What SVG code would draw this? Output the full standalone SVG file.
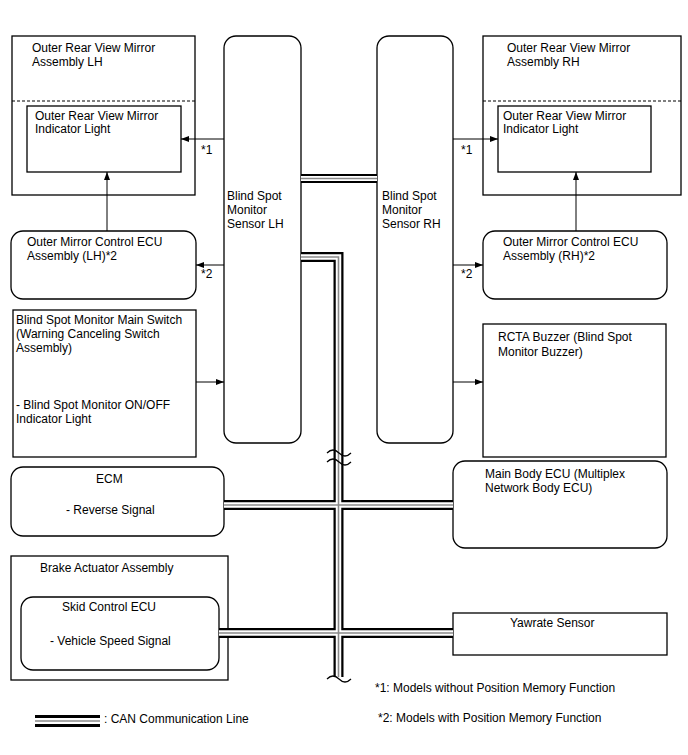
<svg xmlns="http://www.w3.org/2000/svg" xmlns:xlink="http://www.w3.org/1999/xlink" width="688" height="755" viewBox="0 0 688 755">
<style>
text{font-family:"Liberation Sans",Arial,sans-serif;font-size:12px;fill:#000}
.box{fill:#fff;stroke:#000;stroke-width:1.3}
.dash{stroke:#000;stroke-width:1.2;stroke-dasharray:3 2;fill:none}
.arr{stroke:#000;stroke-width:1;fill:none;marker-end:url(#ah)}
.cb{stroke:#000;stroke-width:10;fill:none}
.cw{stroke:#fff;stroke-width:5.5;fill:none}
.cg{stroke:#8a8a8a;stroke-width:1.6;fill:none}
.sq{stroke:#000;stroke-width:1.2;fill:none}
</style>
<defs>
<marker id="ah" markerWidth="8" markerHeight="6" refX="8" refY="3" orient="auto" markerUnits="userSpaceOnUse"><path d="M0,0 L8,3 L0,6 z" fill="#000"/></marker>
<path id="b1" d="M301,178.5 H377"/>
<path id="b2" d="M301,257 H338.5 V677"/>
<path id="b3" d="M224,505 H453"/>
<path id="b4" d="M219,633 H453"/>
<path id="b5" d="M35,721 H100"/>
</defs>
<rect width="688" height="755" fill="#fff"/>
<g id="mirror-lh">
<rect class="box" x="12" y="36" width="183" height="159"/>
<line class="dash" x1="12" y1="101" x2="195" y2="101"/>
<text x="32" y="52">Outer Rear View Mirror</text>
<text x="32" y="66">Assembly LH</text>
</g>
<g id="indicator-lh">
<rect class="box" x="27" y="106" width="154" height="66"/>
<text x="35" y="120">Outer Rear View Mirror</text>
<text x="35" y="133">Indicator Light</text>
</g>
<g id="sensor-lh">
<rect class="box" x="224" y="36" width="77" height="407" rx="12"/>
<text x="227" y="200">Blind Spot</text>
<text x="227" y="214">Monitor</text>
<text x="227" y="228">Sensor LH</text>
</g>
<g id="sensor-rh">
<rect class="box" x="377" y="36" width="76" height="407" rx="12"/>
<text x="382" y="200">Blind Spot</text>
<text x="382" y="214">Monitor</text>
<text x="382" y="228">Sensor RH</text>
</g>
<g id="mirror-rh">
<rect class="box" x="483" y="36" width="198" height="159"/>
<line class="dash" x1="483" y1="101" x2="681" y2="101"/>
<text x="507" y="52">Outer Rear View Mirror</text>
<text x="507" y="66">Assembly RH</text>
</g>
<g id="indicator-rh">
<rect class="box" x="498" y="106" width="153" height="66"/>
<text x="503" y="120">Outer Rear View Mirror</text>
<text x="503" y="133">Indicator Light</text>
</g>
<g id="mirror-ecu-lh">
<rect class="box" x="11" y="231" width="185" height="68" rx="12"/>
<text x="27" y="246">Outer Mirror Control ECU</text>
<text x="27" y="260">Assembly (LH)*2</text>
</g>
<g id="mirror-ecu-rh">
<rect class="box" x="483" y="231" width="184" height="68" rx="12"/>
<text x="503" y="246">Outer Mirror Control ECU</text>
<text x="503" y="260">Assembly (RH)*2</text>
</g>
<g id="main-switch">
<rect class="box" x="13" y="310" width="183" height="147"/>
<text x="16" y="324">Blind Spot Monitor Main Switch</text>
<text x="16" y="338">(Warning Canceling Switch</text>
<text x="16" y="352">Assembly)</text>
<text x="16" y="409">- Blind Spot Monitor ON/OFF</text>
<text x="16" y="423">Indicator Light</text>
</g>
<g id="rcta-buzzer">
<rect class="box" x="483" y="324" width="183" height="133"/>
<text x="498" y="341">RCTA Buzzer (Blind Spot</text>
<text x="498" y="356">Monitor Buzzer)</text>
</g>
<g id="ecm">
<rect class="box" x="11" y="467" width="213" height="69" rx="12"/>
<text x="96" y="483">ECM</text>
<text x="66" y="514">- Reverse Signal</text>
</g>
<g id="main-body-ecu">
<rect class="box" x="453" y="461" width="214" height="87" rx="12"/>
<text x="485" y="478">Main Body ECU (Multiplex</text>
<text x="485" y="492">Network Body ECU)</text>
</g>
<g id="brake-actuator">
<rect class="box" x="11" y="556" width="217" height="124"/>
<text x="40" y="572">Brake Actuator Assembly</text>
</g>
<g id="skid-ecu">
<rect class="box" x="21" y="597" width="198" height="73" rx="12"/>
<text x="62" y="611">Skid Control ECU</text>
<text x="50" y="645">- Vehicle Speed Signal</text>
</g>
<g id="yawrate">
<rect class="box" x="453" y="613" width="214" height="42"/>
<text x="510" y="627">Yawrate Sensor</text>
</g>
<g id="connectors">
<g id="can-bus">
<use href="#b1" class="cb" style="stroke-width:9"/><use href="#b2" class="cb"/><use href="#b3" class="cb"/><use href="#b4" class="cb"/>
<use href="#b1" class="cw" style="stroke-width:5"/><use href="#b2" class="cw"/><use href="#b3" class="cw"/><use href="#b4" class="cw"/>
<use href="#b1" class="cg"/><use href="#b2" class="cg"/><use href="#b3" class="cg"/><use href="#b4" class="cg"/>
<path class="sq" d="M327,453 q6,-6 12,0 t12,0"/>
<path class="sq" d="M327,462 q6,-6 12,0 t12,0"/>
<path class="sq" d="M327,679 q6,-6 12,0 t12,0"/>
</g>
<path class="arr" d="M224,139 H181"/>
<path class="arr" d="M453,139 H498"/>
<path class="arr" d="M224,265 H196"/>
<path class="arr" d="M453,265 H483"/>
<path class="arr" d="M107,231 V172"/>
<path class="arr" d="M576,231 V172"/>
<path class="arr" d="M196,382 H224"/>
<path class="arr" d="M453,382 H483"/>
<text x="201" y="154">*1</text>
<text x="461" y="154">*1</text>
<text x="201" y="278">*2</text>
<text x="461" y="278">*2</text>
</g>
<g id="legend">
<use href="#b5" class="cb" style="stroke-width:12"/><use href="#b5" class="cw" style="stroke-width:6"/><use href="#b5" class="cg"/>
<text x="104" y="723">: CAN Communication Line</text>
<text x="375" y="692">*1: Models without Position Memory Function</text>
<text x="378" y="722">*2: Models with Position Memory Function</text>
</g>
</svg>
